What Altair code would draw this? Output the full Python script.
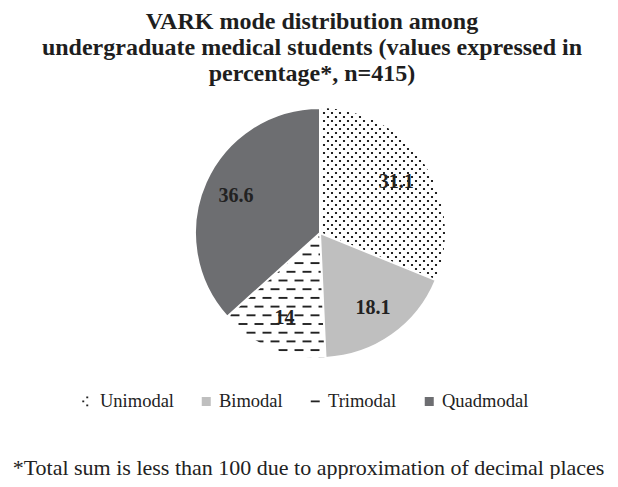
import math
import json
import altair as alt
import pandas as pd

# ---------------- data ----------------
modes = ["Unimodal", "Bimodal", "Trimodal", "Quadmodal"]
percent = [31.1, 18.1, 14, 36.6]
labels = ["31.1", "18.1", "14", "36.6"]

fill_colors = ["#ffffff", "#bfbfbf", "#ffffff", "#6d6e71"]
pattern_colors = ["#222222", "#bfbfbf", "#222222", "#6d6e71"]

title_lines = [
    "VARK mode distribution among",
    "undergraduate medical students (values expressed in",
    "percentage*, n=415)",
]
footnote = "*Total sum is less than 100 due to approximation of decimal places"

# ---------------- symbols (unit box -1..1, scale 8px/unit at size 256) ----------------
DOTS = ("M-0.51,-0.01h0.02v0.02h-0.02z"
        "M-0.01,-0.51h0.02v0.02h-0.02z"
        "M-0.01,0.49h0.02v0.02h-0.02z")
DASH = "M-0.56,0L0.56,0"
SQUARE = "M-0.45,-0.45h0.9v0.9h-0.9z"

R = 125
VIEW = 250

total = sum(percent)
cum = [0.0]
for p in percent:
    cum.append(cum[-1] + p)
ang = [c / total * 2 * math.pi for c in cum]
uni_a0, uni_a1 = ang[0], ang[1]
tri_a0, tri_a1 = ang[2], ang[3]

# texture grids (dot motif lattice and dash lattice)
NA1, NB1 = 71, 25
NA2, NB2 = 35, 33
N1 = NA1 * NB1
N2 = NA2 * NB2

df = pd.DataFrame({"mode": modes, "pct": percent, "label": labels})

fill_scale = alt.Scale(domain=modes, range=fill_colors)
stroke_scale = alt.Scale(domain=modes, range=pattern_colors)
shape_scale = alt.Scale(domain=modes, range=[DOTS, SQUARE, DASH, SQUARE])

legend = alt.Legend(
    title=None, orient="none", legendX=-117, legendY=284,
    direction="horizontal", symbolSize=256, symbolStrokeWidth=1.8,
    labelFont="Liberation Serif", labelFontSize=18.5, labelColor="#222222",
    labelOffset=3.5, columnPadding=23,
)

base = alt.Chart(df).transform_calculate(
    idx=f"indexof({json.dumps(modes)}, datum.mode)"
)
theta = alt.Theta("pct:Q", stack=True)
order = alt.Order("idx:Q")

arcs_all = base.mark_arc(radius=R).encode(
    theta=theta, order=order,
    fill=alt.Fill("mode:N", scale=fill_scale, legend=legend),
)

texture = (
    alt.Chart(alt.sequence(0, N1 + N2, as_="i"))
    .transform_calculate(
        isU=f"datum.i < {N1}",
        j=f"datum.i < {N1} ? datum.i : datum.i - {N1}",
        na=f"datum.i < {N1} ? {NA1} : {NA2}",
        nb=f"datum.i < {N1} ? {NB1} : {NB2}",
    )
    .transform_calculate(
        ga="(datum.j % datum.na) - floor(datum.na / 2)",
        gb="floor(datum.j / datum.na) - floor(datum.nb / 2)",
    )
    .transform_calculate(
        px="datum.isU ? 8 * datum.ga + 12 * datum.gb : 16 * datum.ga + 8 * datum.gb + 3",
        py="datum.isU ? 12 * datum.gb : 8.7 * datum.gb - 4",
        mode="datum.isU ? 'Unimodal' : 'Trimodal'",
        a0=f"datum.isU ? {uni_a0} : {tri_a0}",
        a1=f"datum.isU ? {uni_a1} : {tri_a1}",
    )
    .transform_calculate(
        r="sqrt(datum.px * datum.px + datum.py * datum.py)",
        phi="atan2(datum.px, datum.py)",
    )
    .transform_calculate(
        d0="((datum.phi - datum.a0 + 3 * PI) % (2 * PI)) - PI",
        d1="((datum.a1 - datum.phi + 3 * PI) % (2 * PI)) - PI",
    )
    .transform_filter(
        f"datum.r < {R + 4} && datum.d0 > -PI / 2 && datum.d1 > -PI / 2 && "
        "datum.r * sin(datum.d0) > -5 && datum.r * sin(datum.d1) > -5"
    )
    .mark_point(filled=False, size=256, strokeWidth=1.9, opacity=1)
    .encode(
        x=alt.X(
            "px:Q",
            scale=alt.Scale(domain=[-VIEW / 2, VIEW / 2], nice=False, zero=False),
            axis=alt.Axis(
                title=footnote, labels=False, ticks=False, domain=False, grid=False,
                titleFont="Liberation Serif", titleFontSize=22, titleFontWeight="normal",
                titleColor="#222222", titleX=113, titleY=116,
                titleBaseline="alphabetic", titleAlign="center",
            ),
        ),
        y=alt.Y("py:Q", scale=alt.Scale(domain=[-VIEW / 2, VIEW / 2], nice=False, zero=False), axis=None),
        shape=alt.Shape("mode:N", scale=shape_scale, legend=legend),
        stroke=alt.Stroke("mode:N", scale=stroke_scale, legend=legend),
    )
)

arcs_top = base.mark_arc(radius=R, stroke="white", strokeWidth=2).encode(
    theta=theta, order=order,
    fill=alt.Fill("mode:N", scale=fill_scale, legend=None),
    opacity=alt.condition(
        "datum.mode == 'Unimodal' || datum.mode == 'Trimodal'",
        alt.value(0), alt.value(1),
    ),
)

ring = alt.Chart(alt.InlineData(values=[{"k": 1}])).mark_arc(
    radius=R + 10, radius2=R, theta=0, theta2=2 * math.pi
).encode(fill=alt.value("white"))

text = base.mark_text(
    radius=92, font="Liberation Serif", fontSize=20, fontWeight="bold", color="#222222"
).encode(theta=theta, order=order, text="label:N")

chart = (
    alt.layer(arcs_all, texture, arcs_top, ring, text)
    .properties(
        width=VIEW, height=VIEW,
        padding={"left": 187, "top": 100, "right": 165, "bottom": 121},
        autosize=alt.AutoSizeParams(type="none"),
        title=alt.TitleParams(
            text=title_lines, font="Liberation Serif", fontSize=24, fontWeight="bold",
            lineHeight=26, color="#1e1e1e", anchor="middle", frame="group",
            offset=12.5, dx=-8,
        ),
    )
    .configure_view(stroke=None)
)

chart.save("out.html", embed_options={"renderer": "svg", "actions": False})
